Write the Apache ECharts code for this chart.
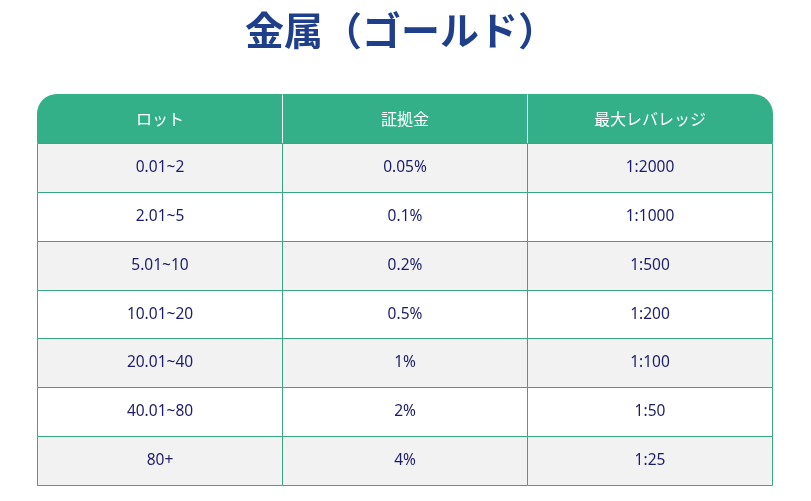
<!DOCTYPE html>
<html>
<head>
<meta charset="utf-8">
<script src="https://cdn.jsdelivr.net/npm/echarts@6/dist/echarts.min.js"></script>
<style>
  html, body { margin: 0; padding: 0; background: #fff; }
  #chart { width: 811px; height: 501px; }
</style>
</head>
<body>
<div id="chart"></div>
<script>
// table content
var headers = ['ロット', '証拠金', '最大レバレッジ'];
var lots = ['0.01~2', '2.01~5', '5.01~10', '10.01~20', '20.01~40', '40.01~80', '80+'];
var margins = ['0.05%', '0.1%', '0.2%', '0.5%', '1%', '2%', '4%'];
var leverages = ['1:2000', '1:1000', '1:500', '1:200', '1:100', '1:50', '1:25'];

var rowNames = ['head'].concat(lots);
var cells = [];
headers.forEach(function (h, c) { cells.push([c, 0, h]); });
[lots, margins, leverages].forEach(function (col, c) {
  col.forEach(function (t, r) { cells.push([c, r + 1, t]); });
});

var green = '#33b088';
var line = '#3aa784';

var chart = echarts.init(document.getElementById('chart'));
chart.setOption({
  animation: false,
  title: {
    text: '金属（ゴールド）',
    left: 240,
    top: 6,
    textStyle: {
      fontFamily: 'Noto Sans CJK JP',
      fontSize: 39,
      fontWeight: 'bold',
      color: '#1f3f8a'
    }
  },
  grid: { left: 36.5, right: 39.5, top: 94, bottom: 16 },
  xAxis: { type: 'value', min: 0, max: 3, show: false },
  yAxis: { type: 'category', data: rowNames, inverse: true, show: false },
  series: [{
    type: 'custom',
    data: cells,
    renderItem: function (params, api) {
      var col = api.value(0), row = api.value(1);
      var a = api.coord([col, row]);
      var b = api.coord([col + 1, row]);
      var h = api.size([0, 1])[1];
      var x = Math.round(a[0]) + 0.5, w = Math.round(b[0]) - Math.round(a[0]);
      var y = Math.round(a[1] - h / 2) + 0.5, hh = Math.round(h);
      var text = cells[params.dataIndex][2];
      if (row === 0) {
        var r = [0, 0, 0, 0];
        if (col === 0) r = [20, 0, 0, 0];
        if (col === 2) r = [0, 20, 0, 0];
        var kids = [{
          type: 'rect',
          shape: { x: x - 0.5, y: y - 0.5, width: w + 1, height: hh, r: r },
          style: { fill: green }
        }];
        if (col > 0) {
          kids.push({
            type: 'line',
            shape: { x1: x, y1: y, x2: x, y2: y + hh },
            style: { stroke: '#ffffff', lineWidth: 1 }
          });
        }
        kids.push({
          type: 'text',
          style: {
            x: x + w / 2, y: y + hh / 2, text: text,
            align: 'center', verticalAlign: 'middle',
            fill: '#ffffff', fontSize: 16,
            fontFamily: 'Noto Sans CJK JP'
          }
        });
        return { type: 'group', children: kids };
      }
      return {
        type: 'group',
        children: [{
          type: 'rect',
          shape: { x: x, y: y, width: w, height: hh },
          style: { fill: row % 2 === 1 ? '#f2f2f2' : '#ffffff', stroke: line, lineWidth: 1 }
        }, {
          type: 'text',
          style: {
            x: x + w / 2, y: y + hh / 2, text: text,
            align: 'center', verticalAlign: 'middle',
            fill: '#1c1c6b', fontSize: 15.5,
            fontFamily: 'Noto Sans'
          }
        }]
      };
    }
  }]
});
</script>
</body>
</html>
